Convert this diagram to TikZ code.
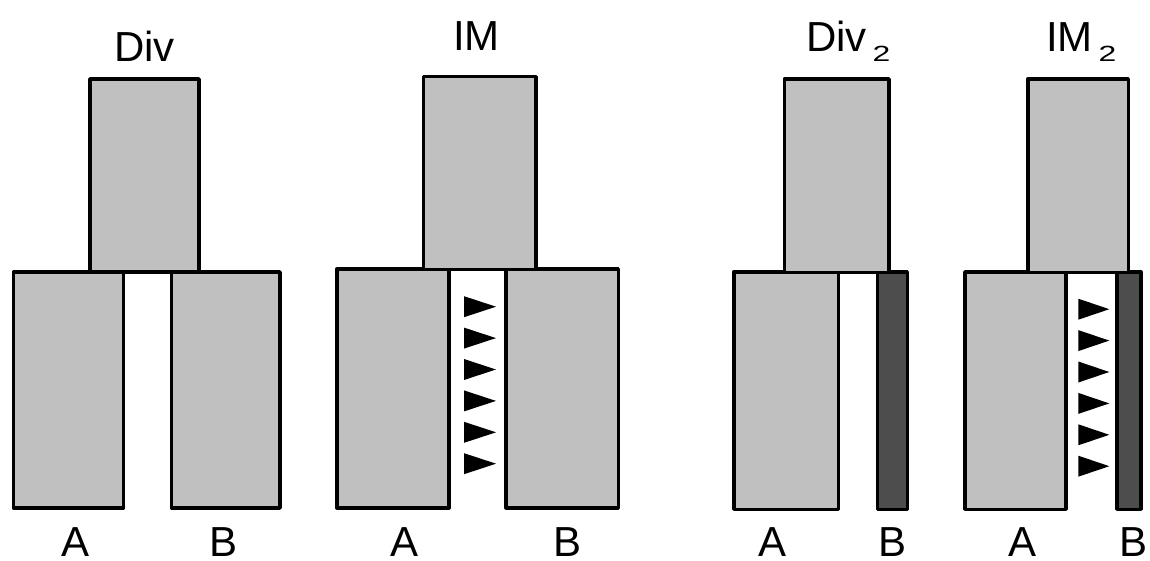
\documentclass[tikz,border=0pt]{standalone}
\usepackage{graphicx}
\usepackage{fontspec}
\setmainfont{Liberation Sans}
\definecolor{popfill}{HTML}{C0C0C0}
\definecolor{popdark}{HTML}{4D4D4D}
\newcommand{\bigfont}{\fontsize{42}{50}\selectfont}
\newcommand{\subfont}{\fontsize{22}{26}\selectfont}
\newcommand{\widetwo}{\scalebox{1.45}[1]{2}}
\begin{document}
\begin{tikzpicture}[x=1pt,y=-1pt,
  block/.style={draw=black, line width=3.6pt, line join=round, fill=popfill,
    inner sep=0pt, outer sep=0pt, anchor=north west},
  darkblock/.style={block, fill=popdark},
  title/.style={inner sep=0pt, anchor=base west, font=\bigfont},
  subtitle/.style={inner sep=0pt, anchor=base west, font=\subfont},
  poplabel/.style={inner sep=0pt, anchor=base, text depth=0pt, font=\bigfont},
  flowtip/.style={fill=black}
]
\useasboundingbox (0,0) rectangle (1150,561);

% --- Div: ancestral population splitting into A and B
\node[block, minimum width=110pt, minimum height=236pt] (divA) at (13.5,272) {};
\node[block, minimum width=108.5pt, minimum height=236pt] (divB) at (171.5,272) {};
\node[block, minimum width=109pt, minimum height=193pt] (divAnc) at (90,79) {};
\node[title] (divT) at (114,62) {Div};
\node[poplabel] (divLA) at (75.2,556) {A};
\node[poplabel] (divLB) at (224,556) {B};

% --- IM: split with gene flow from A to B
\node[block, minimum width=112.3pt, minimum height=238.7pt] (imA) at (336.7,269) {};
\node[block, minimum width=112.3pt, minimum height=238.7pt] (imB) at (506,269) {};
\node[block, minimum width=112.4pt, minimum height=192.8pt] (imAnc) at (423.3,76.7) {};
\node[title] (imT) at (452.8,50.7) {IM};
\node[poplabel] (imLA) at (404.5,556) {A};
\node[poplabel] (imLB) at (567.5,556) {B};
\foreach \i in {0,...,5}
  \fill[flowtip] (464,{306.7+31.4*\i-10.5}) -- (496,{306.7+31.4*\i}) -- (464,{306.7+31.4*\i+10.5}) -- cycle;

% --- Div2: split with a small population B
\node[block, minimum width=104.6pt, minimum height=237.6pt] (divtA) at (733.7,271.7) {};
\node[darkblock, minimum width=30pt, minimum height=237.6pt] (divtB) at (877.3,271.7) {};
\node[block, minimum width=104.7pt, minimum height=193.3pt] (divtAnc) at (784.3,79) {};
\node[title] (divtT) at (806,51.7) {Div};
\node[subtitle] (divtS) at (872.5,61.7) {\widetwo};
\node[poplabel] (divtLA) at (772.8,556) {A};
\node[poplabel] (divtLB) at (892.8,556) {B};

% --- IM2: small population B receiving gene flow from A
\node[block, minimum width=100.7pt, minimum height=237.3pt] (imtA) at (965,272) {};
\node[darkblock, minimum width=24pt, minimum height=237.3pt] (imtB) at (1116.7,272) {};
\node[block, minimum width=100.6pt, minimum height=193.3pt] (imtAnc) at (1027.7,79) {};
\node[title] (imtT) at (1046,51.7) {IM};
\node[subtitle] (imtS) at (1098.5,61.7) {\widetwo};
\node[poplabel] (imtLA) at (1022.5,556) {A};
\node[poplabel] (imtLB) at (1133.3,556) {B};
\foreach \i in {0,...,5}
  \fill[flowtip] (1078.3,{309.2+31.4*\i-10.5}) -- (1109.3,{309.2+31.4*\i}) -- (1078.3,{309.2+31.4*\i+10.5}) -- cycle;
\end{tikzpicture}
\end{document}
